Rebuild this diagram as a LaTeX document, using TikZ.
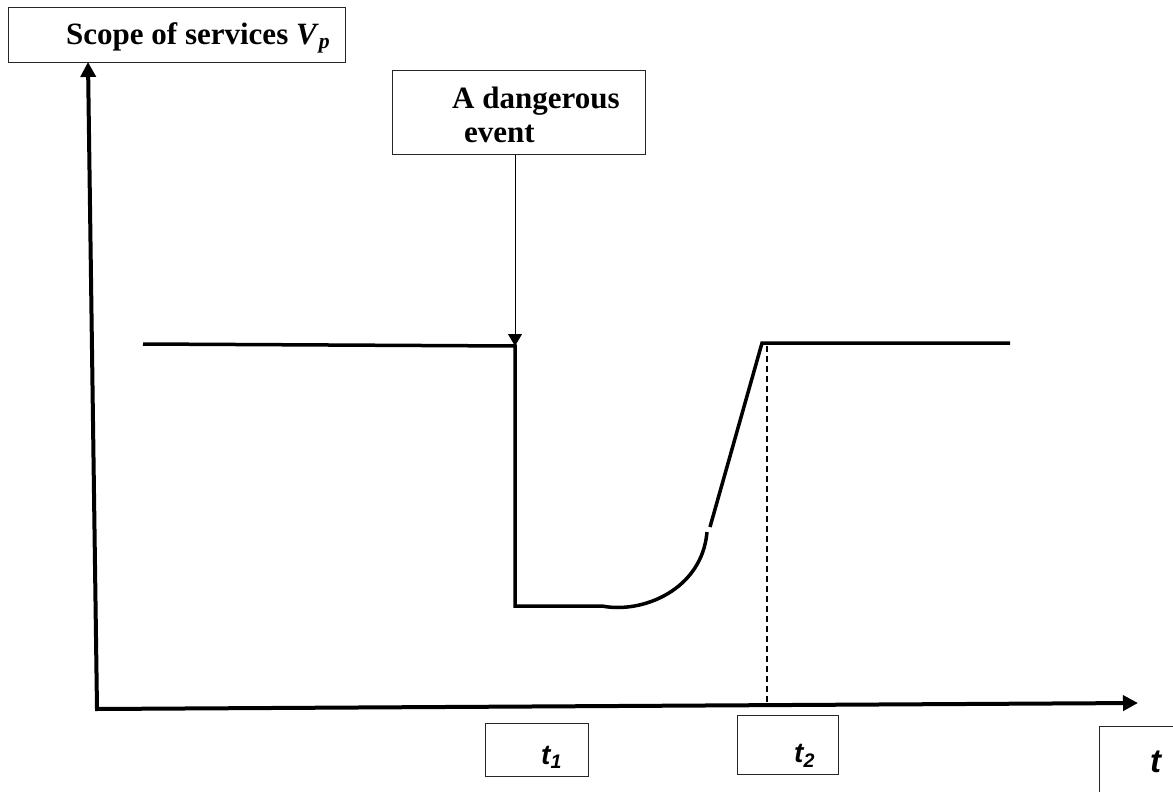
\documentclass[tikz,border=0pt]{standalone}
\usepackage{fontspec}
\setmainfont{Liberation Serif}
\setsansfont{Liberation Sans}
\usetikzlibrary{arrows.meta}

\tikzstyle{frame} = [draw=black!85, line width=1.2pt, inner sep=0pt, anchor=north west]
\tikzstyle{head} = [font=\fontsize{31}{34}\selectfont\bfseries, inner sep=0pt, anchor=base west]
\tikzstyle{tlabel} = [font=\fontsize{28}{30}\selectfont\sffamily\bfseries\itshape, inner sep=0pt, anchor=base west]
\tikzstyle{axis} = [line width=4pt, {Triangle[length=15pt,width=15pt]}-{Triangle[length=15pt,width=15pt]}]
\tikzstyle{level} = [line width=3.5pt]

\begin{document}
\begin{tikzpicture}[x=1pt,y=-1pt]
    \clip (0,0) rectangle (1173,792);
    % Boxes
    \node[frame, minimum width=337, minimum height=55] (scopebox) at (8,7) {};
    \node[head] (scope) at (66,45) {Scope of services \textit{V}\textsubscript{\textit{p}}};
    \node[frame, minimum width=253, minimum height=84] (eventbox) at (392,70) {};
    \node[head] (event1) at (452,108) {A dangerous};
    \node[head] (event2) at (464,142) {event};
    \node[frame, minimum width=103, minimum height=53] (t1box) at (485,723) {};
    \node[tlabel] (t1) at (541,764) {t\textsubscript{1}};
    \node[frame, minimum width=101, minimum height=59] (t2box) at (737,715) {};
    \node[tlabel] (t2) at (794,762) {t\textsubscript{2}};
    \node[frame, minimum width=120, minimum height=100] (tbox) at (1099,726) {};
    \node[tlabel, font=\fontsize{33}{34}\selectfont\sffamily\bfseries\itshape] (t) at (1150,772) {t};
    % Axes
    \coordinate (o) at (97,709);
    \coordinate (ytip) at (88,62);
    \coordinate (xtip) at (1138,703);
    \draw[axis] (ytip) -- (o) -- (xtip);
    % Scope curve
    \coordinate (a) at (143,344);
    \coordinate (b) at (515,346);
    \coordinate (c) at (515,606);
    \coordinate (d) at (602,606);
    \coordinate (e) at (707,532);
    \coordinate (f) at (710,527);
    \coordinate (g) at (762,343);
    \coordinate (h) at (1010,343);
    \draw[level] (a) -- (b) -- (c) -- (d) .. controls (642,614) and (702,590) .. (e);
    \draw[level] (f) -- (g) -- (h);
    % Annotations
    \coordinate (g1) at (767,346);
    \coordinate (g2) at (767,706);
    \draw[line width=1.3pt, dash pattern=on 6pt off 4pt] (g1) -- (g2);
    \draw[line width=1pt, -{Triangle[length=12pt,width=14pt]}] (eventbox.south -| b) -- (b);
\end{tikzpicture}
\end{document}
